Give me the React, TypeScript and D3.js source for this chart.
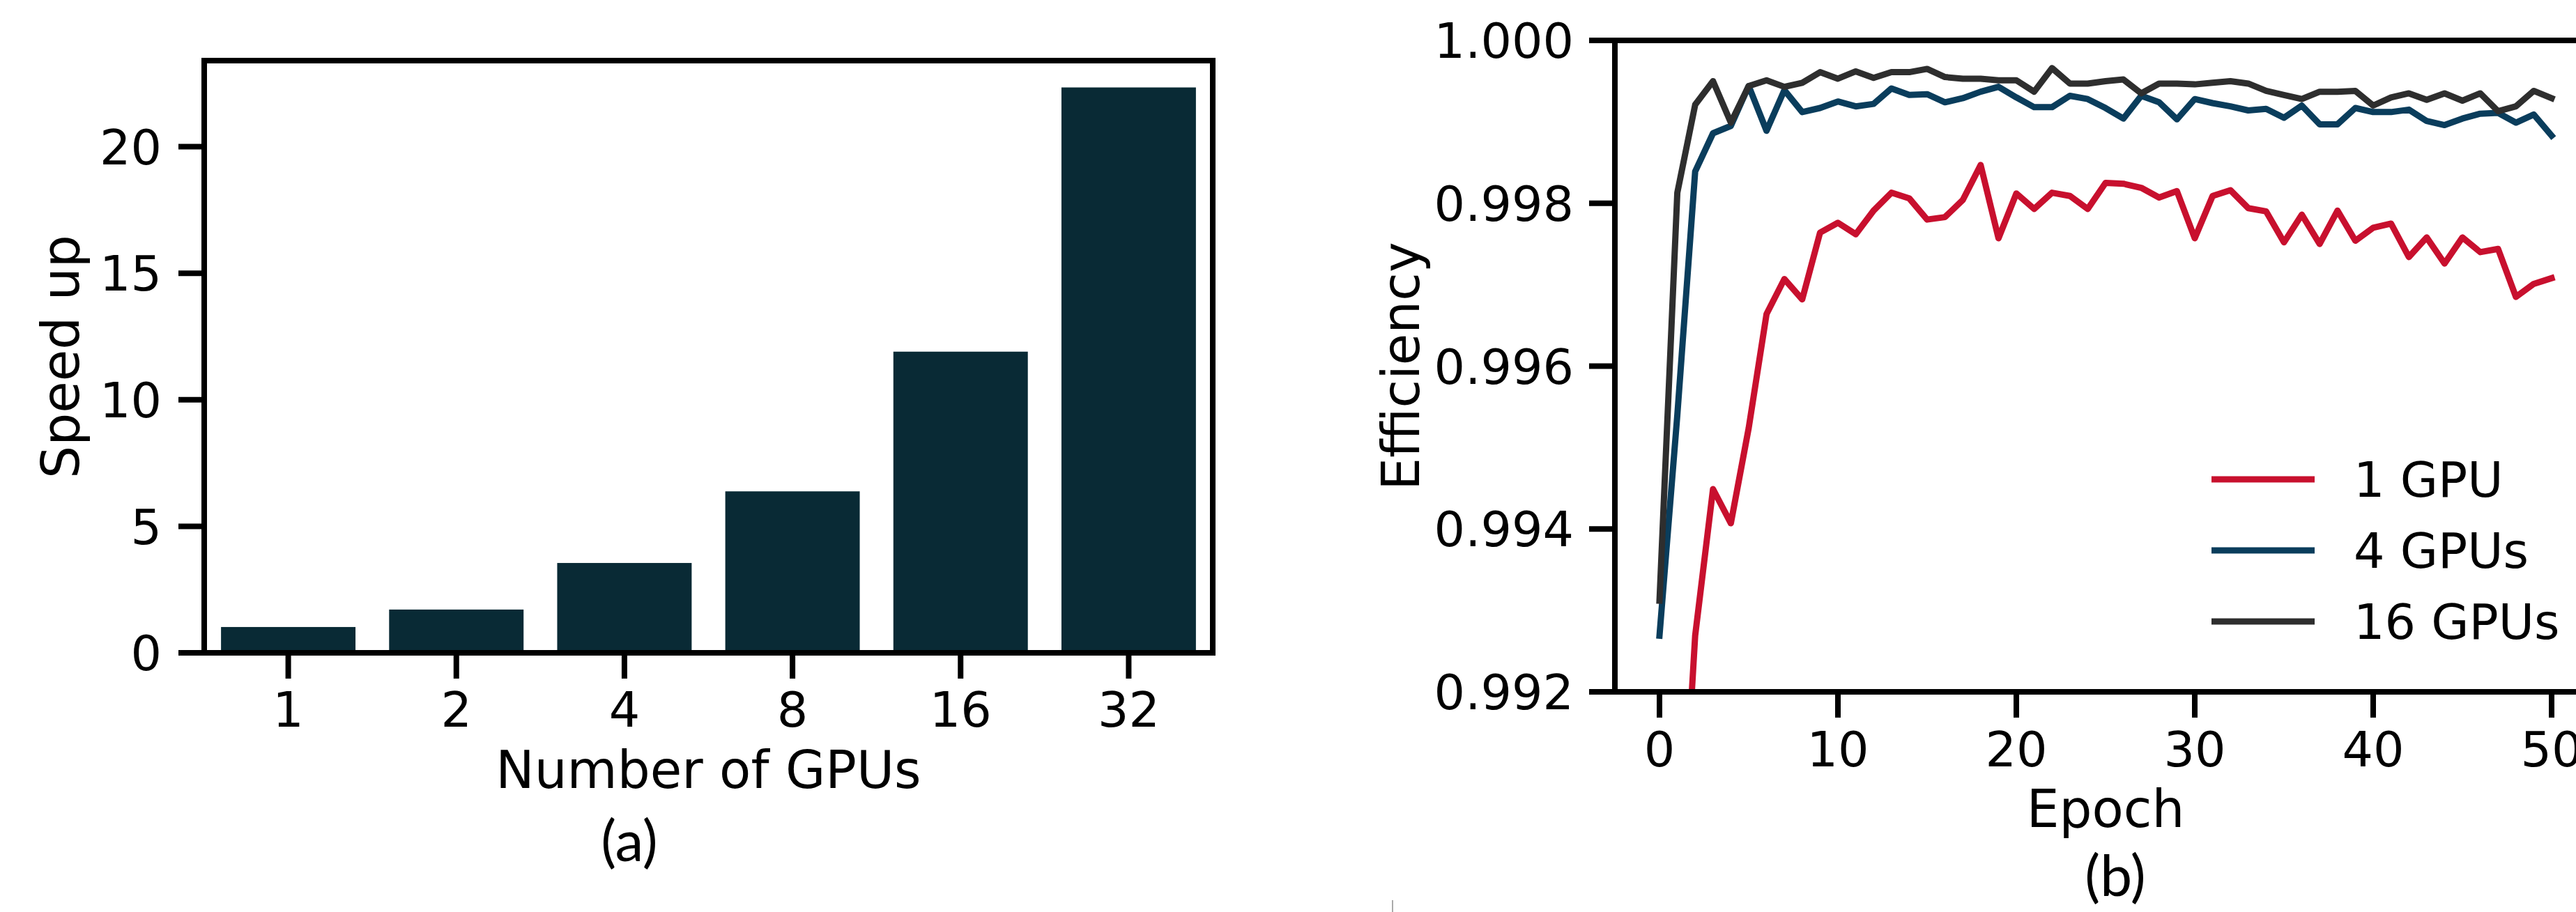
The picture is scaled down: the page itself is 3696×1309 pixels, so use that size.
import * as d3 from "d3";

// speed-up bar chart
const gpuCounts = ["1", "2", "4", "8", "16", "32"];
const speedup = [1.02, 1.71, 3.55, 6.38, 11.9, 22.34];

// efficiency per epoch (0..50)
const eff1Gpu = [
  0.985, 0.989, 0.99269, 0.99449, 0.99407, 0.99524, 0.99664, 0.99707, 0.99682, 0.99764,
  0.99776, 0.99762, 0.99791, 0.99813, 0.99806, 0.9978, 0.99783, 0.99804, 0.99847, 0.99757,
  0.99812, 0.99793, 0.99813, 0.99809, 0.99793, 0.99825, 0.99824, 0.99819, 0.99807, 0.99815,
  0.99757, 0.99809, 0.99816, 0.99794, 0.9979, 0.99752, 0.99786, 0.9975, 0.99791, 0.99754,
  0.9977, 0.99775, 0.99734, 0.99758, 0.99726, 0.99758, 0.9974, 0.99744, 0.99685, 0.99701,
  0.99708,
];
const eff4Gpu = [
  0.99269, 0.9954, 0.99839, 0.99886, 0.99895, 0.99944, 0.99889, 0.99939, 0.99912, 0.99917,
  0.99925, 0.99919, 0.99922, 0.99941, 0.99933, 0.99934, 0.99924, 0.99929, 0.99937, 0.99943,
  0.9993, 0.99918, 0.99918, 0.99932, 0.99928, 0.99917, 0.99904, 0.99932, 0.99924, 0.99903,
  0.99928, 0.99923, 0.99919, 0.99914, 0.99916, 0.99905, 0.9992, 0.99897, 0.99897, 0.99917,
  0.99912, 0.99912, 0.99915, 0.99901, 0.99896, 0.99904, 0.9991, 0.99911, 0.99899, 0.99909,
  0.99883,
];
const eff16Gpu = [
  0.99312, 0.99813, 0.99921, 0.9995, 0.99899, 0.99944, 0.99951, 0.99943, 0.99948, 0.99961,
  0.99953, 0.99962, 0.99954, 0.99961, 0.99961, 0.99965, 0.99955, 0.99953, 0.99953, 0.99951,
  0.99951, 0.99937, 0.99966, 0.99947, 0.99947, 0.9995, 0.99952, 0.99935, 0.99947, 0.99947,
  0.99946, 0.99948, 0.9995, 0.99947, 0.99938, 0.99933, 0.99928, 0.99937, 0.99937, 0.99938,
  0.9992, 0.9993, 0.99935, 0.99927, 0.99935, 0.99926, 0.99935, 0.99913, 0.99919, 0.99938,
  0.99929,
];
const seriesLabels = ["1 GPU", "4 GPUs", "16 GPUs"];
const seriesColors = ["#c8102e", "#0a3d5c", "#2e2e2e"];

const W = 3696;
const H = 1309;
const FONT = "DejaVu Sans";
const FS = 70; // tick + legend text
const LFS = 74; // axis labels
const TICK = 37;
const LW = 8;

export default function App() {
  // left panel
  const a = { left: 293, right: 1740, top: 87, bottom: 937 };
  const xBar = d3.scaleBand().domain(gpuCounts).range([a.left, a.right]).paddingInner(0.2).paddingOuter(0.1);
  const yBar = d3.scaleLinear().domain([0, 23.4]).range([a.bottom, a.top]);

  // right panel
  const b = { left: 2317, right: 3725, top: 58, bottom: 993 };
  const xEp = d3.scaleLinear().domain([-2.5, 52.5]).range([b.left, b.right]);
  const yEff = d3.scaleLinear().domain([0.992, 1.0]).range([b.bottom, b.top]);
  const line = d3.line<number>().x((_, i) => xEp(i)).y((d) => yEff(d));
  const series = [eff1Gpu, eff4Gpu, eff16Gpu];
  const fmt = d3.format(".3f");

  return (
    <div style={{ position: "absolute", left: 0, top: 0 }}>
      <svg width={W} height={H} style={{ display: "block", background: "#fff" }} fontFamily={FONT}>
        <defs>
          <clipPath id="clipB">
            <rect x={b.left} y={b.top} width={b.right - b.left} height={b.bottom - b.top} />
          </clipPath>
        </defs>

        {/* ---- (a) speed up ---- */}
        {speedup.map((v, i) => (
          <rect key={i} x={xBar(gpuCounts[i])} y={yBar(v)} width={xBar.bandwidth()}
            height={yBar(0) - yBar(v)} fill="#092a35" />
        ))}
        <rect x={a.left} y={a.top} width={a.right - a.left} height={a.bottom - a.top}
          fill="none" stroke="#000" strokeWidth={LW} />
        {yBar.ticks(5).map((t) => (
          <g key={t}>
            <line x1={a.left - TICK} x2={a.left} y1={yBar(t)} y2={yBar(t)} stroke="#000" strokeWidth={LW} />
            <text x={a.left - TICK - 24} y={yBar(t)} dy="0.36em" textAnchor="end" fontSize={FS}>{t}</text>
          </g>
        ))}
        {gpuCounts.map((g) => {
          const cx = xBar(g)! + xBar.bandwidth() / 2;
          return (
            <g key={g}>
              <line x1={cx} x2={cx} y1={a.bottom} y2={a.bottom + TICK} stroke="#000" strokeWidth={LW} />
              <text x={cx} y={a.bottom + 106} textAnchor="middle" fontSize={FS}>{g}</text>
            </g>
          );
        })}
        <text x={(a.left + a.right) / 2} y={a.bottom + 194} textAnchor="middle" fontSize={LFS}>Number of GPUs</text>
        <text transform={`translate(113,${(a.top + a.bottom) / 2}) rotate(-90)`} textAnchor="middle" fontSize={LFS}>Speed up</text>
        <text x={903} y={1236} textAnchor="middle" fontSize={82} fontFamily="Lato">(a)</text>

        {/* ---- (b) efficiency ---- */}
        <g clipPath="url(#clipB)">
          {series.map((s, i) => (
            <path key={i} d={line(s)!} fill="none" stroke={seriesColors[i]} strokeWidth={9}
              strokeLinejoin="round" strokeLinecap="square" />
          ))}
        </g>
        <rect x={b.left} y={b.top} width={b.right - b.left} height={b.bottom - b.top}
          fill="none" stroke="#000" strokeWidth={LW} />
        {yEff.ticks(4).map((t) => (
          <g key={t}>
            <line x1={b.left - TICK} x2={b.left} y1={yEff(t)} y2={yEff(t)} stroke="#000" strokeWidth={LW} />
            <text x={b.left - TICK - 22} y={yEff(t)} dy="0.36em" textAnchor="end" fontSize={FS}>{fmt(t)}</text>
          </g>
        ))}
        {xEp.ticks(5).map((t) => (
          <g key={t}>
            <line x1={xEp(t)} x2={xEp(t)} y1={b.bottom} y2={b.bottom + TICK} stroke="#000" strokeWidth={LW} />
            <text x={xEp(t)} y={b.bottom + 107} textAnchor="middle" fontSize={FS}>{t}</text>
          </g>
        ))}
        <text x={(b.left + b.right) / 2} y={b.bottom + 194} textAnchor="middle" fontSize={LFS}>Epoch</text>
        <text transform={`translate(2036,${(b.top + b.bottom) / 2}) rotate(-90)`} textAnchor="middle" fontSize={LFS}>Efficiency</text>

        {/* legend */}
        {seriesLabels.map((lab, i) => {
          const ly = 688 + i * 102;
          return (
            <g key={lab}>
              <line x1={3173} x2={3321} y1={ly} y2={ly} stroke={seriesColors[i]} strokeWidth={9} />
              <text x={3377} y={ly} dy="0.36em" fontSize={FS}>{lab}</text>
            </g>
          );
        })}
        <text x={3035} y={1286} textAnchor="middle" fontSize={82} fontFamily="Lato">(b)</text>

        <line x1={1998} x2={1998} y1={1292} y2={1309} stroke="#aaa" strokeWidth={2} />
      </svg>
    </div>
  );
}
